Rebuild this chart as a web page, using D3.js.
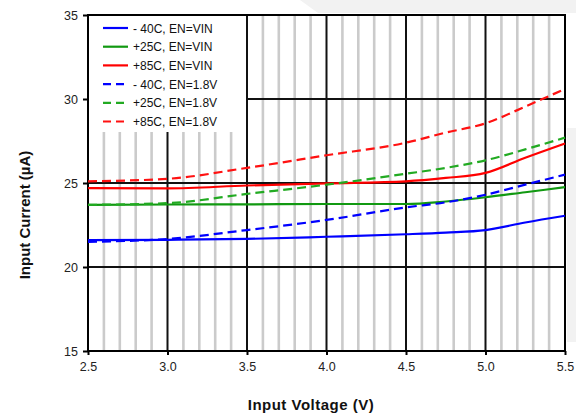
<!DOCTYPE html>
<html><head><meta charset="utf-8">
<script src="https://cdn.jsdelivr.net/npm/d3@7"></script>
<style>body{margin:0;background:#fff}svg{display:block}</style>
</head><body>
<svg id="c" width="576" height="416"></svg>
<script>
const voltage = [2.5, 3.0, 3.5, 4.0, 4.5, 4.75, 5.0, 5.25, 5.5];
const m40_vin  = [21.6, 21.62, 21.67, 21.8, 21.95, 22.05, 22.2, 22.65, 23.05];
const p25_vin  = [23.7, 23.72, 23.73, 23.75, 23.75, 23.9, 24.15, 24.45, 24.75];
const p85_vin  = [24.7, 24.68, 24.85, 24.98, 25.1, 25.3, 25.6, 26.5, 27.35];
const m40_18   = [21.5, 21.67, 22.2, 22.8, 23.55, 23.85, 24.3, 24.9, 25.5];
const p25_18   = [23.7, 23.8, 24.35, 24.9, 25.55, 25.9, 26.35, 27.0, 27.7];
const p85_18   = [25.1, 25.25, 25.9, 26.65, 27.4, 28.0, 28.55, 29.55, 30.6];
const seriesNames = ["- 40C, EN=VIN", "+25C, EN=VIN", "+85C, EN=VIN", "- 40C, EN=1.8V", "+25C, EN=1.8V", "+85C, EN=1.8V"];
const seriesValues = [m40_vin, p25_vin, p85_vin, m40_18, p25_18, p85_18];
const seriesColors = ["#0000ff", "#119911", "#ff0000", "#0000ff", "#22aa22", "#ff1111"];
const seriesDashed = [false, false, false, true, true, true];
const xTicks = [2.5, 3.0, 3.5, 4.0, 4.5, 5.0, 5.5];
const yTicks = [15, 20, 25, 30, 35];

const svg = d3.select("#c");
const L = 88, R = 565, T = 15, B = 351;
const x = d3.scaleLinear().domain([2.5, 5.5]).range([L, R]);
const y = d3.scaleLinear().domain([15, 35]).range([B, T]);
const font = "'Liberation Sans', Arial, sans-serif";

// faint background shading
svg.append("polygon").attr("points", "300,0 576,0 576,13 318,13").attr("fill", "#f2f2f2");
svg.append("rect").attr("x", 567).attr("y", 128).attr("width", 9).attr("height", 214).attr("fill", "#f2f2f2");

svg.append("rect").attr("x", L).attr("y", T).attr("width", R - L).attr("height", B - T).attr("fill", "#fff");

// minor vertical grid
const minor = d3.range(26, 55).map(d => d / 10).filter(v => Math.abs(v * 2 - Math.round(v * 2)) > 1e-6);
svg.append("g").selectAll("line").data(minor).join("line")
  .attr("x1", d => x(d)).attr("x2", d => x(d)).attr("y1", T).attr("y2", B)
  .attr("stroke", "#cbcbcb").attr("stroke-width", 2.6);
// major vertical grid
svg.append("g").selectAll("line").data(xTicks.slice(1, -1)).join("line")
  .attr("x1", d => x(d)).attr("x2", d => x(d)).attr("y1", T).attr("y2", B)
  .attr("stroke", "#111").attr("stroke-width", 2);
// horizontal grid
svg.append("g").selectAll("line").data(yTicks.slice(1, -1)).join("line")
  .attr("x1", L).attr("x2", R).attr("y1", d => y(d)).attr("y2", d => y(d))
  .attr("stroke", "#111").attr("stroke-width", 2);

// legend background
svg.append("rect").attr("x", L + 1).attr("y", T + 1).attr("width", 157).attr("height", 116).attr("fill", "#fff");

// frame
svg.append("rect").attr("x", L).attr("y", T).attr("width", R - L).attr("height", B - T)
  .attr("fill", "none").attr("stroke", "#000").attr("stroke-width", 2);

// axes
const yAxis = d3.axisLeft(y).tickValues(yTicks).tickSize(5).tickFormat(d3.format("d"));
const gy = svg.append("g").attr("transform", `translate(${L},0)`).call(yAxis);
const xAxis = d3.axisBottom(x).tickValues(xTicks).tickSize(4).tickFormat(d3.format(".1f"));
const gx = svg.append("g").attr("transform", `translate(0,${B})`).call(xAxis);
[gy, gx].forEach(g => {
  g.select(".domain").remove();
  g.selectAll(".tick line").attr("stroke", "#000").attr("stroke-width", 2);
  g.selectAll("text").attr("font-family", font).attr("font-size", 12.5).attr("fill", "#222");
});
gy.selectAll("text").attr("x", -10);
gx.selectAll("text").attr("y", 11);

// lines
const line = d3.line().x((d, i) => x(voltage[i])).y(d => y(d)).curve(d3.curveMonotoneX);
seriesValues.forEach((vals, i) => {
  svg.append("path").datum(vals).attr("d", line).attr("fill", "none")
    .attr("stroke", seriesColors[i]).attr("stroke-width", 2.2)
    .attr("stroke-dasharray", seriesDashed[i] ? "9,5" : null);
});

// legend
const lg = svg.append("g");
seriesNames.forEach((name, i) => {
  const yy = 28 + i * 18.7;
  lg.append("line").attr("x1", 103).attr("x2", 128).attr("y1", yy).attr("y2", yy)
    .attr("stroke", seriesColors[i]).attr("stroke-width", 2.2)
    .attr("stroke-dasharray", seriesDashed[i] ? "8,5" : null);
  lg.append("text").attr("x", 133).attr("y", yy + 4.5).text(name)
    .attr("font-family", font).attr("font-size", 12).attr("fill", "#111");
});

// titles
svg.append("text").attr("x", 311).attr("y", 410).attr("text-anchor", "middle")
  .attr("font-family", font).attr("font-size", 15).attr("font-weight", "bold").attr("fill", "#111")
  .attr("letter-spacing", 0.5)
  .text("Input Voltage (V)");
svg.append("text").attr("transform", "translate(30,215) rotate(-90)").attr("text-anchor", "middle")
  .attr("font-family", font).attr("font-size", 15).attr("font-weight", "bold").attr("fill", "#111")
  .text("Input Current (µA)");
</script>
</body></html>
